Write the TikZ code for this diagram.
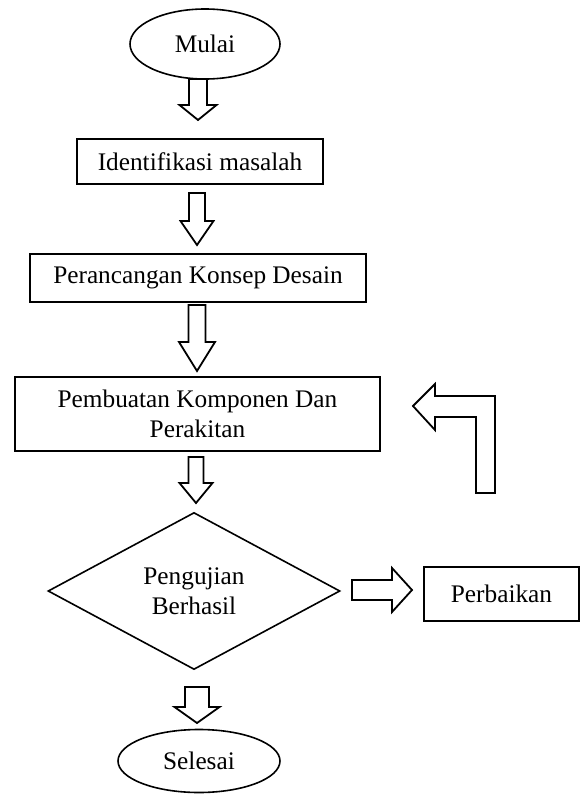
\documentclass[tikz,border=0pt]{standalone}
\usepackage{fontspec}
\setmainfont{Liberation Serif}
\usetikzlibrary{shapes.geometric}
% block arrow pointing down: cx, top, head base, tip, shaft width, head width
\newcommand\bdown[6]{%
  \draw[blk] ({#1-#5/2},#2) -- ({#1+#5/2},#2) -- ({#1+#5/2},#3) -- ({#1+#6/2},#3)
    -- (#1,#4) -- ({#1-#6/2},#3) -- ({#1-#5/2},#3) -- cycle;}
\begin{document}
\begin{tikzpicture}[x=1pt,y=-1pt,
  font=\fontsize{25.3}{30}\selectfont,
  box/.style={draw,line width=2pt,rectangle,inner sep=0pt,align=center},
  term/.style={draw,line width=1.6pt,ellipse,inner sep=0pt},
  blk/.style={draw,line width=1.8pt,fill=white,line join=miter}]
\useasboundingbox (0,0) rectangle (582,798);

\node[term,minimum width=150pt,minimum height=70pt] (mulai) at (205,44) {Mulai};
\node[box,minimum width=246pt,minimum height=45pt] (ident) at (200,161.5) {Identifikasi masalah};
\node[box,minimum width=336pt,minimum height=48pt] (ranc) at (198,278) {Perancangan Konsep Desain};
\node[box,minimum width=365pt,minimum height=74pt] (buat) at (197.5,414) {Pembuatan Komponen Dan\\Perakitan};
\node[diamond,draw,line width=1.6pt,minimum width=292pt,minimum height=157pt,
      inner sep=0pt,shape aspect=1.86,align=center] (uji) at (194,591) {Pengujian\\Berhasil};
\node[box,minimum width=155pt,minimum height=54pt] (baik) at (501.5,594) {Perbaikan};
\node[term,minimum width=162pt,minimum height=63pt] (selesai) at (199,761) {Selesai};

\bdown{198}{79}{105}{120}{18}{37}
\bdown{197}{193}{221}{245}{16}{33}
\bdown{197}{305}{342}{371}{17}{36}
\bdown{196}{457}{483}{503}{15}{33}
\bdown{197}{687}{707}{723}{24}{45}

\draw[blk] (352,580) -- (392,580) -- (392,568) -- (412,590) -- (392,612) -- (392,600) -- (352,600) -- cycle;
\draw[blk] (413,406) -- (435,384) -- (435,396) -- (495,396) -- (495,493) -- (476,493)
  -- (476,417) -- (435,417) -- (435,430) -- cycle;
\end{tikzpicture}
\end{document}
